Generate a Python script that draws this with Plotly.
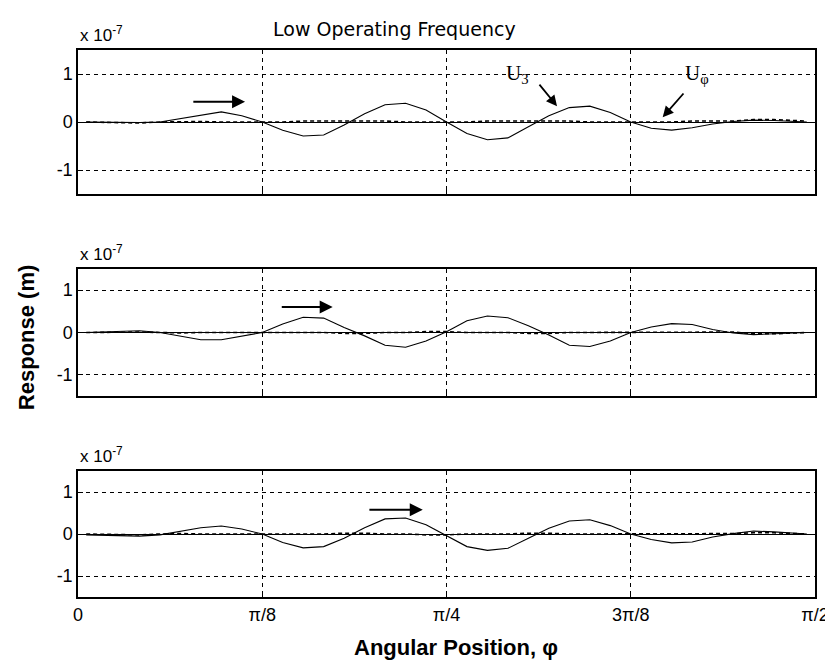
import plotly.graph_objects as go

# angular position in degrees (0 .. 90 == 0 .. pi/2)
phi_deg = [1, 5, 7.5, 10, 12.5, 15, 17.5, 20, 22.5, 25, 27.5, 30, 32.5, 35, 37.5, 40,
           42.5, 45, 47.5, 50, 52.5, 55, 57.5, 60, 62.5, 65, 67.5, 70, 72.5, 75, 77.5,
           80, 82.5, 85, 89]

# responses in units of 1e-7 m
u3_top = [0.0, -0.01, -0.01, 0.0, 0.07, 0.15, 0.21, 0.13, 0.0, -0.17, -0.29, -0.27, -0.06,
          0.17, 0.36, 0.39, 0.25, 0.0, -0.24, -0.37, -0.33, -0.10, 0.13, 0.30, 0.33, 0.20,
          0.0, -0.13, -0.17, -0.12, -0.04, 0.01, 0.04, 0.03, 0.0]
uphi_top = [0.0, -0.02, -0.02, 0.0, 0.01, 0.01, 0.0, 0.0, 0.0, 0.0, 0.02, 0.02, 0.02, 0.02,
            0.02, 0.0, 0.0, 0.0, 0.0, 0.02, 0.02, 0.02, 0.02, 0.02, 0.0, 0.0, 0.0, 0.0, 0.0,
            0.02, 0.02, 0.02, 0.05, 0.05, 0.02]

u3_mid = [0.0, 0.02, 0.04, 0.0, -0.09, -0.17, -0.17, -0.09, 0.0, 0.20, 0.36, 0.34, 0.12,
          -0.08, -0.30, -0.35, -0.20, 0.02, 0.28, 0.39, 0.35, 0.16, -0.06, -0.30, -0.33,
          -0.20, 0.0, 0.13, 0.21, 0.19, 0.07, -0.01, -0.05, -0.03, 0.0]
uphi_mid = [0.0, 0.01, 0.01, 0.0, -0.01, 0.0, 0.0, 0.0, 0.0, 0.0, 0.0, 0.0, -0.02, -0.02,
            0.0, 0.0, 0.02, 0.02, 0.0, 0.0, 0.0, -0.02, -0.02, 0.0, 0.0, 0.0, 0.0, 0.0, 0.0,
            0.0, 0.0, 0.01, -0.03, -0.03, 0.0]

u3_bot = [-0.02, -0.03, -0.05, -0.02, 0.07, 0.15, 0.19, 0.12, 0.0, -0.20, -0.33, -0.30,
          -0.10, 0.15, 0.36, 0.38, 0.22, -0.03, -0.30, -0.39, -0.34, -0.10, 0.14, 0.31,
          0.34, 0.20, 0.0, -0.13, -0.21, -0.19, -0.07, 0.01, 0.07, 0.05, 0.0]
uphi_bot = [0.0, -0.02, -0.02, 0.0, 0.01, 0.0, 0.0, 0.0, 0.0, 0.0, 0.0, 0.0, 0.02, 0.02,
            0.0, 0.0, -0.02, -0.02, 0.0, 0.0, 0.0, 0.02, 0.02, 0.0, 0.0, 0.0, 0.0, 0.0, 0.0,
            0.0, 0.0, 0.01, 0.03, 0.03, 0.0]

x_tickvals = [0, 22.5, 45, 67.5, 90]
x_ticktext = ["0", "\u03c0/8", "\u03c0/4", "3\u03c0/8", "\u03c0/2"]
y_tickvals = [-1, 0, 1]
y_ticktext = ["-1", "0", "1"]

panels = [(u3_top, uphi_top), (u3_mid, uphi_mid), (u3_bot, uphi_bot)]
domains = [[0.7367, 1.0], [0.3675, 0.5996], [0.0, 0.2303]]

fig = go.Figure()
for i, (u3, uphi) in enumerate(panels):
    xa = "x" if i == 0 else f"x{i+1}"
    ya = "y" if i == 0 else f"y{i+1}"
    fig.add_trace(go.Scatter(x=phi_deg, y=uphi, mode="lines", xaxis=xa, yaxis=ya,
                             line=dict(color="black", width=1.6, dash="4px,3px"),
                             showlegend=False))
    fig.add_trace(go.Scatter(x=phi_deg, y=u3, mode="lines", xaxis=xa, yaxis=ya,
                             line=dict(color="black", width=1.1),
                             showlegend=False))

font_reg = "Liberation Sans, Arial, sans-serif"
font_wide = "DejaVu Sans, sans-serif"
axis_common = dict(showline=True, linecolor="black", linewidth=1.5, mirror=True,
                   ticks="inside", ticklen=5, tickcolor="black", automargin=False,
                   showgrid=True, gridcolor="black", gridwidth=1, griddash="4px,4px",
                   tickfont=dict(family=font_reg, size=18, color="black"))

# the page adds an 8px body margin, so the figure is 8px smaller than the window
layout = dict(width=825, height=652, plot_bgcolor="white", paper_bgcolor="white",
              margin=dict(l=70, r=18, t=42, b=63, autoexpand=False), showlegend=False)
for i in range(3):
    xk = "xaxis" if i == 0 else f"xaxis{i+1}"
    yk = "yaxis" if i == 0 else f"yaxis{i+1}"
    ya = "y" if i == 0 else f"y{i+1}"
    xa = "x" if i == 0 else f"x{i+1}"
    layout[xk] = dict(axis_common, domain=[0, 1], range=[0, 90], anchor=ya,
                      tickvals=x_tickvals, ticktext=x_ticktext,
                      showticklabels=(i == 2), zeroline=False)
    layout[yk] = dict(axis_common, domain=domains[i], range=[-1.5, 1.5], anchor=xa,
                      tickvals=y_tickvals, ticktext=y_ticktext,
                      zeroline=True, zerolinecolor="black", zerolinewidth=1)
layout["xaxis3"]["ticklabelstandoff"] = 1
fig.update_layout(**layout)

ann = []
for i in range(3):
    xa = "x" if i == 0 else f"x{i+1}"
    ya = "y" if i == 0 else f"y{i+1}"
    ann.append(dict(text="x 10<sup>-7</sup>", xref=f"{xa} domain", yref=f"{ya} domain",
                    x=0, y=1, xanchor="left", yanchor="bottom", yshift=3, showarrow=False,
                    font=dict(family=font_reg, size=17, color="black")))

ann.append(dict(text="Low Operating Frequency", xref="x domain", yref="y domain",
                x=0.43, y=1, xanchor="center", yanchor="bottom", yshift=8, showarrow=False,
                font=dict(family=font_wide, size=19, color="black")))

ann.append(dict(text="<b>Response (m)</b>", xref="paper", yref="paper", x=-0.07, y=0.474,
                textangle=-90, showarrow=False, xanchor="center", yanchor="middle",
                font=dict(family=font_reg, size=22, color="black")))

ann.append(dict(text="<b>Angular Position, \u03c6</b>", xref="paper", yref="paper",
                x=0.513, y=0, yshift=-50, showarrow=False, xanchor="center",
                yanchor="middle", font=dict(family=font_reg, size=22, color="black")))

# direction arrows
arrows = [("x", "y", 13.9, 20.4, 0.42), ("x2", "y2", 24.7, 31.1, 0.6),
          ("x3", "y3", 35.4, 42.1, 0.58)]
for xa, ya, x0, x1, yv in arrows:
    ann.append(dict(x=x1, y=yv, ax=x0, ay=yv, xref=xa, yref=ya, axref=xa, ayref=ya,
                    text="", showarrow=True, arrowhead=2, arrowsize=1.3, arrowwidth=2,
                    arrowcolor="black"))

# labels U3 and Uphi
ann.append(dict(x=58.5, y=0.33, ax=56.2, ay=0.81, xref="x", yref="y", axref="x", ayref="y",
                text="", showarrow=True, arrowhead=2, arrowsize=1.2, arrowwidth=1.8,
                arrowcolor="black"))
ann.append(dict(x=71.4, y=0.10, ax=74.1, ay=0.625, xref="x", yref="y", axref="x", ayref="y",
                text="", showarrow=True, arrowhead=2, arrowsize=1.2, arrowwidth=1.8,
                arrowcolor="black"))
ann.append(dict(x=53.7, y=1.0, xref="x", yref="y", text="U<sub>3</sub>", showarrow=False,
                font=dict(family="Liberation Serif, serif", size=21, color="black")))
ann.append(dict(x=75.6, y=1.0, xref="x", yref="y", text="U<sub>\u03c6</sub>", showarrow=False,
                font=dict(family="Liberation Serif, serif", size=21, color="black")))

fig.update_layout(annotations=ann)
fig.write_html("out.html")
